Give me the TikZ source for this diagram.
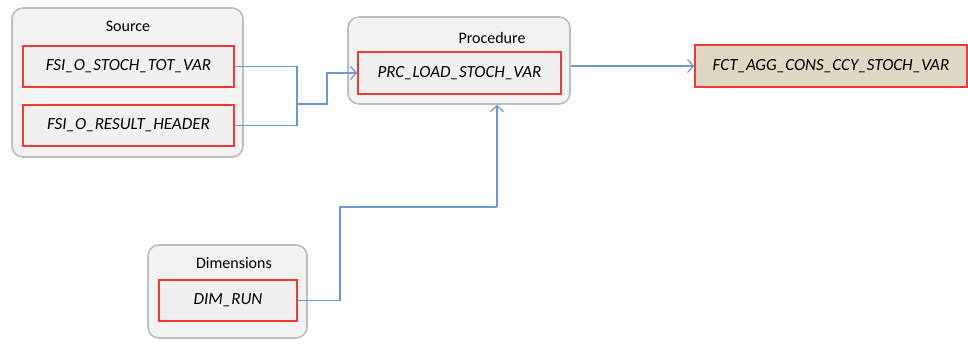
\documentclass[tikz,border=0pt]{standalone}
\usepackage{fontspec}
\setmainfont{Carlito}
\usetikzlibrary{arrows.meta}
\definecolor{grpfill}{HTML}{F2F2F2}
\definecolor{grpdraw}{HTML}{BDBDBD}
\definecolor{boxred}{HTML}{F03A3A}
\definecolor{boxfill}{HTML}{F0F0F0}
\definecolor{tgtfill}{HTML}{DDD9C4}
\definecolor{linkblue}{HTML}{6F98CE}
\tikzset{
  grp/.style={draw=grpdraw, fill=grpfill, line width=1.6pt, rounded corners=11pt, inner sep=0pt},
  obj/.style={draw=boxred, fill=boxfill, line width=1.4pt, inner sep=0pt, font=\fontsize{17}{19}\selectfont\itshape},
  tgt/.style={obj, fill=tgtfill},
  grplabel/.style={font=\fontsize{16}{18}\selectfont, inner sep=0pt},
  conn/.style={draw=linkblue, line width=1.2pt},
  arr/.style={conn, -{Straight Barb[length=6pt,width=13pt]}}
}
\begin{document}
\begin{tikzpicture}[x=1pt,y=-1pt]
\useasboundingbox (0,0) rectangle (968,347);
% groups
\node[grp, minimum width=231pt, minimum height=149pt] (src) at (127.5,82.5) {};
\node[grplabel] (srclbl) at (128,26) {Source};
\node[obj, minimum width=211pt, minimum height=41pt] (s1) at (128.5,66.5) {FSI\_O\_STOCH\_TOT\_VAR};
\node[obj, minimum width=211pt, minimum height=41pt] (s2) at (128.5,125.5) {FSI\_O\_RESULT\_HEADER};

\node[grp, minimum width=222pt, minimum height=87pt] (proc) at (459,60.5) {};
\node[grplabel] (proclbl) at (492,38) {Procedure};
\node[obj, minimum width=203pt, minimum height=42pt] (p) at (459.5,73) {PRC\_LOAD\_STOCH\_VAR};

\node[tgt, minimum width=272pt, minimum height=42pt] (f) at (831,66) {FCT\_AGG\_CONS\_CCY\_STOCH\_VAR};

\node[grp, minimum width=159pt, minimum height=93pt] (dim) at (227.5,291.5) {};
\node[grplabel] (dimlbl) at (234,263) {Dimensions};
\node[obj, minimum width=138pt, minimum height=41pt] (d) at (228,300.5) {DIM\_RUN};

% connectors
\coordinate (j) at (297,104);
\coordinate (k) at (327,104);
\coordinate (m1) at (340,207);
\coordinate (m2) at (497,207);
\draw[conn] (s1.east) -| (j);
\draw[conn] (s2.east) -| (j);
\draw[arr] (j) -- (k) |- (p.west);
\draw[arr] (proc.east |- f.west) -- (f.west);
\draw[conn] (d.east) -| (m1) -- (m2);
\draw[arr] (m2) -- (m2 |- proc.south);
\end{tikzpicture}
\end{document}
